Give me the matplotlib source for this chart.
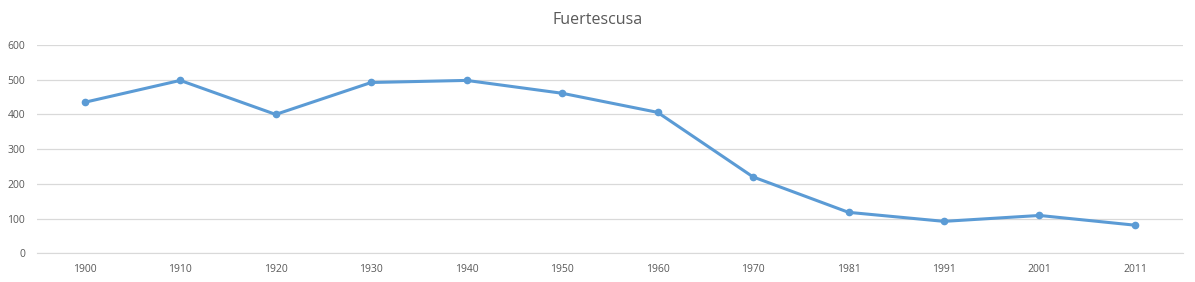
import matplotlib
matplotlib.use("Agg")
import matplotlib.pyplot as plt

# Fuertescusa population by census year
years = ["1900", "1910", "1920", "1930", "1940", "1950",
         "1960", "1970", "1981", "1991", "2001", "2011"]
population = [435, 498, 400, 492, 498, 461, 406, 220, 118, 92, 109, 81]

plt.rcParams['font.family'] = ['Open Sans', 'DejaVu Sans']

fig = plt.figure(figsize=(11.95, 2.82), dpi=100)
ax = fig.add_axes([37 / 1195, 1 - 253.3 / 282, (1182.7 - 37) / 1195, (253.3 - 45) / 282])

x = list(range(len(years)))
ax.plot(x, population, color='#5B9BD5', linewidth=2.2, marker='o',
        markersize=4.5, zorder=3)

ax.set_xlim(-0.5, len(years) - 0.5)
ax.set_ylim(0, 600)
ax.set_yticks(range(0, 601, 100))
ax.set_xticks(x)
ax.set_xticklabels(years)

ax.grid(axis='y', color='#D9D9D9', linewidth=0.9)
ax.set_axisbelow(True)
for side in ['top', 'right', 'left']:
    ax.spines[side].set_visible(False)
ax.spines['bottom'].set_color('#D9D9D9')
ax.tick_params(axis='both', length=0, labelsize=7.5, labelcolor='#595959')
ax.tick_params(axis='y', pad=8.5)
ax.tick_params(axis='x', pad=8)

fig.text(0.5, 1 - 20 / 282, 'Fuertescusa', ha='center', va='center',
         fontsize=11.5, color='#595959')

fig.savefig('out.png', dpi=100)
